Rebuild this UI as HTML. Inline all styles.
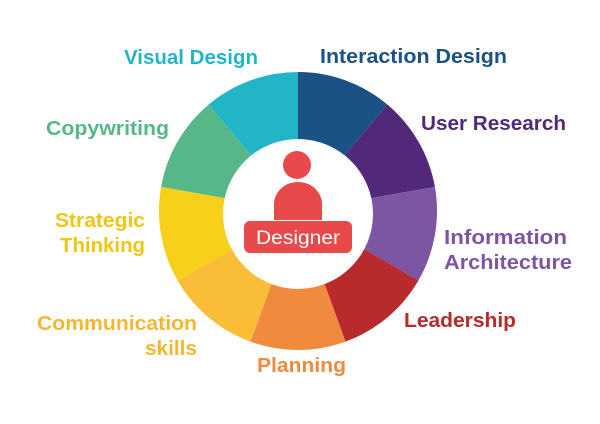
<!DOCTYPE html>
<html><head><meta charset="utf-8"><style>
html,body{margin:0;padding:0;background:#fff;width:600px;height:424px;overflow:hidden}
text{font-family:"Liberation Sans",sans-serif;font-weight:bold;font-size:20px}
</style></head><body>
<svg width="600" height="424" viewBox="0 0 600 424" xmlns="http://www.w3.org/2000/svg">
<g stroke="none">
<path d="M298,211 L298,72 A139,139 0 0 1 387.3,104.5 Z" fill="#1a5286"/>
<path d="M298,211 L387.3,104.5 A139,139 0 0 1 434.9,186.9 Z" fill="#52287a"/>
<path d="M298,211 L434.9,186.9 A139,139 0 0 1 418.4,280.5 Z" fill="#7c55a3"/>
<path d="M298,211 L418.4,280.5 A139,139 0 0 1 345.5,341.6 Z" fill="#b82a2c"/>
<path d="M298,211 L345.5,341.6 A139,139 0 0 1 250.5,341.6 Z" fill="#ef8a3e"/>
<path d="M298,211 L250.5,341.6 A139,139 0 0 1 177.6,280.5 Z" fill="#f9bd38"/>
<path d="M298,211 L177.6,280.5 A139,139 0 0 1 161.1,186.9 Z" fill="#f8d01a"/>
<path d="M298,211 L161.1,186.9 A139,139 0 0 1 208.7,104.5 Z" fill="#56b888"/>
<path d="M298,211 L208.7,104.5 A139,139 0 0 1 298,72 Z" fill="#22b5c8"/>
</g>
<circle cx="298" cy="214" r="75" fill="#fff"/>
<circle cx="297" cy="165" r="14" fill="#e84a4b"/>
<path d="M274,220 L274,204 A24,22 0 0 1 322,204 L322,220 Z" fill="#e84a4b"/>
<rect x="244" y="221" width="108" height="32" rx="6" fill="#e84a4b"/>
<text x="256" y="244" fill="#fff" style="font-weight:normal;font-size:19px" textLength="84" lengthAdjust="spacingAndGlyphs">Designer</text>

<text x="124" y="64" fill="#22b5c8" textLength="134" lengthAdjust="spacingAndGlyphs">Visual Design</text>
<text x="320" y="63" fill="#1a5286" textLength="187" lengthAdjust="spacingAndGlyphs">Interaction Design</text>
<text x="421" y="130" fill="#52287a" textLength="145" lengthAdjust="spacingAndGlyphs">User Research</text>
<text x="444" y="244" fill="#7c55a3" textLength="123" lengthAdjust="spacingAndGlyphs">Information</text>
<text x="444" y="269" fill="#7c55a3" textLength="128" lengthAdjust="spacingAndGlyphs">Architecture</text>
<text x="404" y="327" fill="#b82a2c" textLength="112" lengthAdjust="spacingAndGlyphs">Leadership</text>
<text x="257" y="372" fill="#ef8a3e" textLength="89" lengthAdjust="spacingAndGlyphs">Planning</text>
<text x="37" y="330" fill="#f5b731" textLength="160" lengthAdjust="spacingAndGlyphs">Communication</text>
<text x="145" y="355" fill="#f5b731" textLength="52" lengthAdjust="spacingAndGlyphs">skills</text>
<text x="55" y="227" fill="#f2c511" textLength="90" lengthAdjust="spacingAndGlyphs">Strategic</text>
<text x="60" y="252" fill="#f2c511" textLength="85" lengthAdjust="spacingAndGlyphs">Thinking</text>
<text x="46" y="135" fill="#56b888" textLength="123" lengthAdjust="spacingAndGlyphs">Copywriting</text>
</svg>
</body></html>
